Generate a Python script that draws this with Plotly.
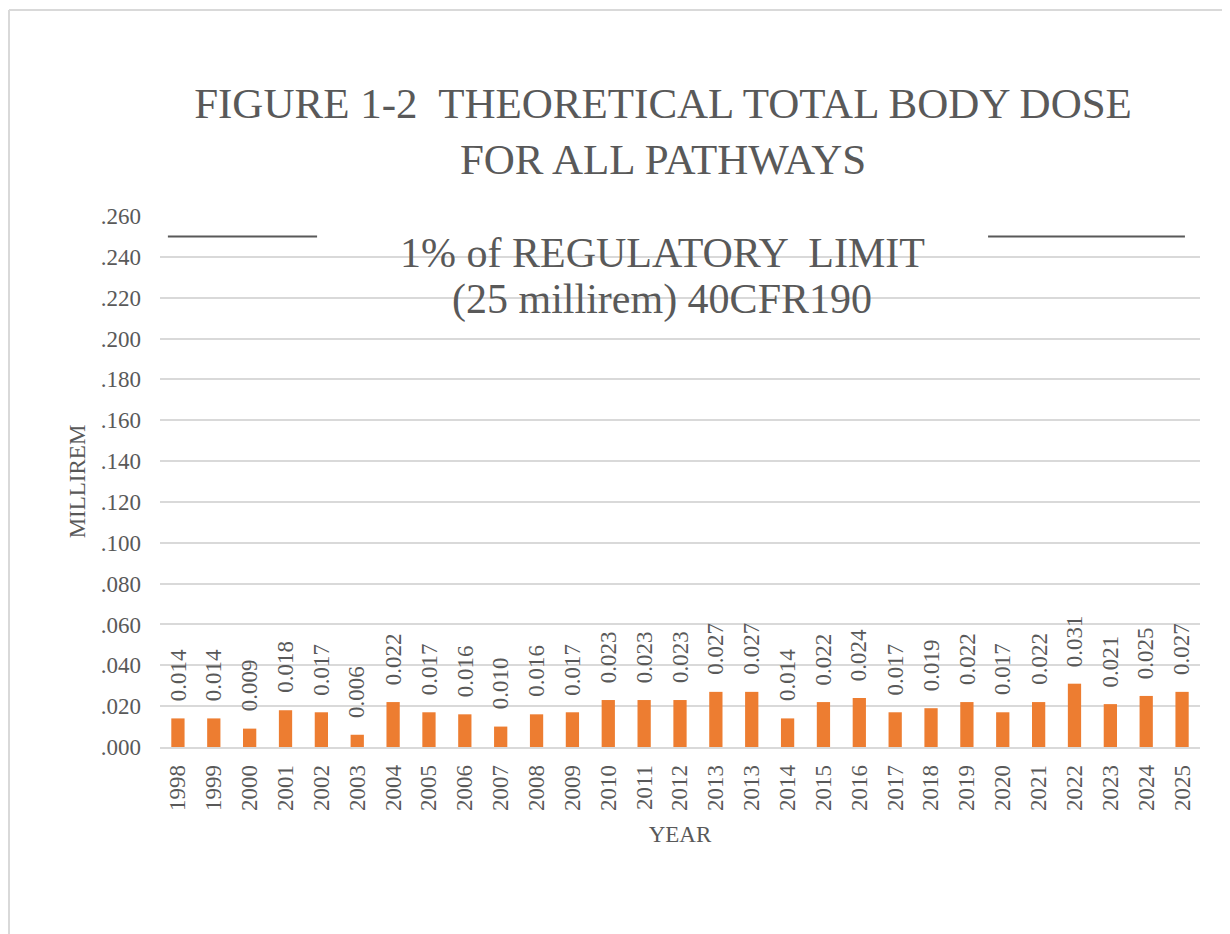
import plotly.graph_objects as go

years = ["1998", "1999", "2000", "2001", "2002", "2003", "2004", "2005", "2006", "2007",
         "2008", "2009", "2010", "2011", "2012", "2013", "2013", "2014", "2015", "2016",
         "2017", "2018", "2019", "2020", "2021", "2022", "2023", "2024", "2025"]
dose = [0.014, 0.014, 0.009, 0.018, 0.017, 0.006, 0.022, 0.017, 0.016, 0.010,
        0.016, 0.017, 0.023, 0.023, 0.023, 0.027, 0.027, 0.014, 0.022, 0.024,
        0.017, 0.019, 0.022, 0.017, 0.022, 0.031, 0.021, 0.025, 0.027]
ytick_vals = [0.00, 0.02, 0.04, 0.06, 0.08, 0.10, 0.12, 0.14, 0.16, 0.18, 0.20, 0.22, 0.24, 0.26]
ytick_text = [".000", ".020", ".040", ".060", ".080", ".100", ".120", ".140", ".160", ".180",
              ".200", ".220", ".240", ".260"]
limit_value = 0.25
limit_label = ["1% of REGULATORY  LIMIT", "(25 millirem) 40CFR190"]

FONT = "Liberation Serif"
TXT = "#595959"
GRID = "#d9d9d9"
ORANGE = "#ED7D31"

# plot area geometry (figure px)
L, T, PW, PH = 152, 208, 1040, 531
W, H = 1230, 934

pos = list(range(len(years)))

fig = go.Figure()
fig.add_trace(go.Bar(
    x=pos, y=dose, width=0.37, marker=dict(color=ORANGE, line=dict(width=0)),
    hoverinfo="skip", showlegend=False,
))
# limit line segments (interrupted by the label)
fig.add_trace(go.Scatter(
    x=[-0.28, 3.88, None, 22.59, 28.08],
    y=[limit_value, limit_value, None, limit_value, limit_value],
    mode="lines", line=dict(color="#595959", width=2),
    hoverinfo="skip", showlegend=False, connectgaps=False,
))

annotations = []
for p, v in zip(pos, dose):
    annotations.append(dict(
        x=p, y=v, xref="x", yref="y", text=f"{v:.3f}", showarrow=False,
        textangle=-90, yanchor="bottom", xanchor="center", yshift=15,
        font=dict(family=FONT, size=23, color=TXT),
    ))
for txt, ypx in zip(limit_label, [245, 291]):
    annotations.append(dict(
        x=(654 - L) / PW, y=1 - (ypx - T) / PH, xref="paper", yref="paper",
        text=txt, showarrow=False, xanchor="center", yanchor="middle",
        font=dict(family=FONT, size=42, color=TXT),
    ))

fig.update_layout(
    width=W, height=H,
    margin=dict(l=L, r=W - L - PW, t=T, b=H - T - PH),
    paper_bgcolor="white", plot_bgcolor="white",
    title=dict(
        text="FIGURE 1-2  THEORETICAL TOTAL BODY DOSE<br>FOR ALL PATHWAYS",
        x=655 / W, xanchor="center", y=1 - 110 / H, yanchor="middle",
        font=dict(family=FONT, size=43, color=TXT),
    ),
    annotations=annotations,
    xaxis=dict(
        range=[-0.5, len(years) - 0.5], tickmode="array", tickvals=pos, ticktext=years,
        tickangle=-90, tickfont=dict(family=FONT, size=23, color=TXT),
        showgrid=False, showline=True, linecolor=GRID, linewidth=1.5,
        ticks="", ticklabelstandoff=7, zeroline=False,
        title=dict(text="YEAR", font=dict(family=FONT, size=23, color=TXT), standoff=16),
    ),
    yaxis=dict(
        range=[0, 0.26], tickmode="array", tickvals=ytick_vals, ticktext=ytick_text,
        tickfont=dict(family=FONT, size=23, color=TXT),
        showgrid=True, gridcolor=GRID, gridwidth=1.5, zeroline=False,
        ticks="", ticklabelstandoff=18,
        title=dict(text="MILLIREM", font=dict(family=FONT, size=23, color=TXT), standoff=8),
    ),
    shapes=[
        dict(type="line", xref="paper", yref="paper",
             x0=(1 - L) / PW, x1=(W + 20 - L) / PW, y0=1 + (T - 2) / PH, y1=1 + (T - 2) / PH,
             line=dict(color=GRID, width=2)),
        dict(type="line", xref="paper", yref="paper",
             x0=(1 - L) / PW, x1=(1 - L) / PW, y0=1 + (T - 2) / PH, y1=-(H - T - PH + 20) / PH,
             line=dict(color=GRID, width=2)),
    ],
)

fig.write_html("out.html")
